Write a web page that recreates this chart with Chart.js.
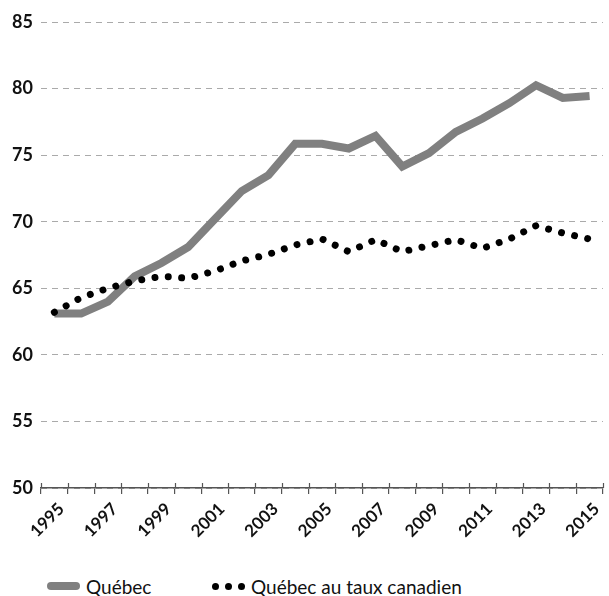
<!DOCTYPE html>
<html>
<head>
<meta charset="utf-8">
<script src="https://cdn.jsdelivr.net/npm/chart.js@4/dist/chart.umd.min.js"></script>
<style>
  html, body { margin: 0; padding: 0; background: #fff; }
  #wrap { position: relative; width: 609px; height: 596px; overflow: hidden; }
  #box { position: absolute; left: 0; top: 0; width: 609px; height: 545px; }
  #legend { position: absolute; left: 0; top: 576px; height: 20px; width: 609px;
            font-family: Lato, "Open Sans", sans-serif; font-size: 19px; color: #111; }
  .item { position: absolute; top: 0; height: 20px; display: flex; align-items: center; }
  .bar { width: 33px; height: 8px; border-radius: 4px; background: #808080; margin-right: 6px; }
  .dot { width: 7px; height: 7px; border-radius: 50%; background: #000; margin-right: 6px; }
</style>
</head>
<body>
<div id="wrap">
  <div id="box"><canvas id="c"></canvas></div>
  <div id="legend">
    <div class="item" style="left:47px"><span class="bar"></span><span>Québec</span></div>
    <div class="item" style="left:212px"><span class="dot"></span><span class="dot"></span><span class="dot"></span><span>Québec au taux canadien</span></div>
  </div>
</div>
<script>
const years = ['1995','1996','1997','1998','1999','2000','2001','2002','2003','2004','2005',
               '2006','2007','2008','2009','2010','2011','2012','2013','2014','2015'];
const quebec = [63.1, 63.1, 64.0, 65.9, 66.9, 68.1, 70.2, 72.3, 73.5, 75.85, 75.85,
                75.5, 76.45, 74.15, 75.15, 76.75, 77.75, 78.9, 80.25, 79.3, 79.45];
const quebecTauxCanadien = [63.2, 64.3, 65.0, 65.55, 65.9, 65.75, 66.3, 67.05, 67.55, 68.25, 68.7,
                            67.75, 68.65, 67.75, 68.2, 68.65, 68.0, 68.7, 69.7, 69.15, 68.7];
const yMin = 50, yMax = 85, yStep = 5;

const upTicks = {
  id: 'upTicks',
  afterDraw(chart) {
    const xs = chart.scales.x;
    const ctx = chart.ctx;
    const y = chart.chartArea.bottom;
    ctx.save();
    ctx.strokeStyle = '#555';
    ctx.lineWidth = 1.2;
    ctx.beginPath();
    for (let i = 0; i <= years.length; i++) {
      const px = Math.round(xs.getPixelForValue(i - 0.5)) + 0.5;
      ctx.moveTo(px, y - 5);
      ctx.lineTo(px, y);
    }
    ctx.stroke();
    ctx.restore();
  }
};

new Chart(document.getElementById('c'), {
  type: 'line',
  data: {
    labels: years,
    datasets: [
      {
        label: 'Québec au taux canadien',
        data: quebecTauxCanadien,
        borderColor: '#000',
        borderWidth: 7,
        borderDash: [0.001, 13.4],
        borderCapStyle: 'round',
        pointRadius: 0,
        tension: 0,
        order: 0
      },
      {
        label: 'Québec',
        data: quebec,
        borderColor: '#808080',
        borderWidth: 8,
        borderJoinStyle: 'miter',
        borderCapStyle: 'butt',
        pointRadius: 0,
        tension: 0,
        order: 1
      }
    ]
  },
  options: {
    responsive: true,
    maintainAspectRatio: false,
    animation: false,
    layout: { padding: { left: 12, top: 22, right: 0, bottom: 0 } },
    plugins: { legend: { display: false }, tooltip: { enabled: false } },
    scales: {
      x: {
        offset: true,
        grid: { offset: true, drawOnChartArea: false, drawTicks: true, tickLength: 6, color: '#555', lineWidth: 1.2 },
        border: { display: true, color: '#555', width: 1.5 },
        ticks: {
          autoSkip: false, minRotation: 45, maxRotation: 45, padding: 5, labelOffset: 7,
          color: '#111',
          font: { family: 'Lato', weight: 'bold', size: 17 },
          callback: (v, i) => (i % 2 === 0 ? years[i] : '')
        },
        afterFit: s => { s.height = 57; }
      },
      y: {
        min: yMin, max: yMax,
        grid: { color: '#aaa', lineWidth: 1, drawTicks: false },
        border: { display: false, dash: [6, 5] },
        ticks: {
          stepSize: yStep, padding: 8, color: '#111',
          font: { family: 'Lato', weight: 'bold', size: 18 }
        },
        afterFit: s => { s.width = 29; }
      }
    }
  },
  plugins: [upTicks]
});
</script>
</body>
</html>
